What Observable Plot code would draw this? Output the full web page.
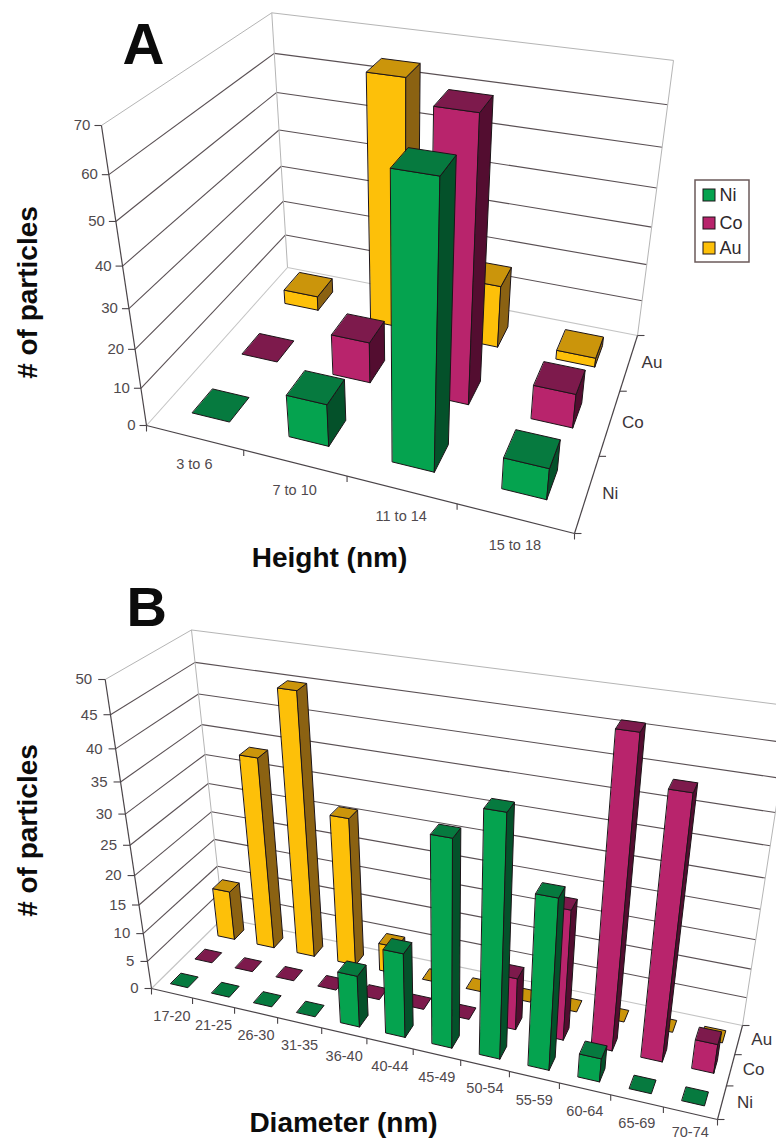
<!DOCTYPE html>
<html><head><meta charset="utf-8">
<script src="https://cdn.jsdelivr.net/npm/d3@7"></script>
<script src="https://cdn.jsdelivr.net/npm/@observablehq/plot@0.6"></script>
<style>html,body{margin:0;padding:0;background:#fff}svg{display:block}</style>
</head><body><div id="chart"></div>
<script>
const W = 776, H = 1141;
// Chart A values
const heightBins = ["3 to 6","7 to 10","11 to 14","15 to 18"];
const heightNi = [0, 11, 67, 8];
const heightCo = [0, 11, 69.5, 9];
const heightAu = [4, 65, 17, 2.5];
const heightTicks = [0,10,20,30,40,50,60,70];
// Chart B values
const diameterBins = ["17-20","21-25","26-30","31-35","36-40","40-44","45-49","50-54","55-59","60-64","65-69","70-74"];
const diameterNi = [0,0,0,0,9,14.5,34,39,28,4,0,0];
const diameterCo = [0,0,0,0,0,0,0,9,22,49,42,5];
const diameterAu = [9,33.5,45,26,5,0,0,0,0,0,0,0];
const diameterTicks = [0,5,10,15,20,25,30,35,40,45,50];
const seriesNames = ["Ni","Co","Au"];
const seriesFaces = {
  Ni:{front:"#05a34f",top:"#067a3f",side:"#04512a"},
  Co:{front:"#b8246c",top:"#7d1a4c",side:"#530d30"},
  Au:{front:"#fdc009",top:"#cb950b",side:"#8b6212"}
};
// Calibration of the two perspective views: floor corners, vertical vanishing point, top of the front-left edge
const viewA = {floor:[[146,425],[574,533],[637,335],[287,267]], vp:[402,2130], topY:125, bw:.39, bd:.39};
const viewB = {floor:[[151,988],[717,1119],[742,1025],[222.5,917.5]], vp:[445,2950], topY:679, bw:.42, bd:.42};

function homography(q){
  const [[x0,y0],[x1,y1],[x2,y2],[x3,y3]] = q;
  const dx1=x1-x2, dx2=x3-x2, sx=x0-x1+x2-x3, dy1=y1-y2, dy2=y3-y2, sy=y0-y1+y2-y3;
  const det=dx1*dy2-dx2*dy1, g=(sx*dy2-dx2*sy)/det, h=(dx1*sy-sx*dy1)/det;
  const a=x1-x0+g*x1,b=x3-x0+h*x3,c=x0,d=y1-y0+g*y1,e=y3-y0+h*y3,f=y0;
  return (u,v)=>[a*u+b*v+c,d*u+e*v+f,g*u+h*v+1];
}
function makeProjector(view,nu,maxV){
  const F=homography(view.floor),[vx,vy]=view.vp,y0=view.floor[0][1];
  const lambda=(view.topY-y0)/(vy-view.topY);
  return (u,v,val)=>{
    const [X,Y,Wt]=F(u/nu,v/3),s=lambda*val/maxV;
    return [(X+s*vx)/(Wt+s),(Y+s*vy)/(Wt+s)];
  };
}
function buildChart(view,cats,seriesVals,ticks,opts){
  const n=cats.length,maxV=ticks[ticks.length-1],P=makeProjector(view,n,maxV);
  const faces=[],grid=[],axes=[],labels=[];
  let id=0;
  const face=(pts,fill)=>{id++;pts.forEach(p=>faces.push({x:p[0],y:p[1],id:opts.key+id,fill}));};
  const seg=(arr,a,b,stroke,sw)=>arr.push({x1:a[0],y1:a[1],x2:b[0],y2:b[1],stroke,sw});
  for(const t of ticks){
    const c=t===maxV?"#b5b5b5":"#5a5054",sw=t===maxV?1:1.1;
    const col=t===0?"#c4c4c4":c;
    seg(grid,P(0,0,t),P(0,3,t),col,sw);seg(grid,P(0,3,t),P(n,3,t),col,sw);
  }
  seg(grid,P(0,3,0),P(0,3,maxV),"#b5b5b5",1);
  seg(grid,P(n,3,0),P(n,3,maxV),"#b5b5b5",1);
  seg(axes,P(0,0,0),P(0,0,maxV),"#4a4448",1.2);
  seg(axes,P(0,0,0),P(n,0,0),"#4a4448",1.2);
  seg(axes,P(n,0,0),P(n,3,0),"#4a4448",1.2);
  ticks.forEach(t=>{const p=P(0,0,t);seg(axes,[p[0]-7,p[1]],p,"#4a4448",1.1);
    labels.push({x:p[0]+opts.tickDx,y:p[1],text:String(t),anchor:"end"});});
  for(let i=0;i<=n;i++){const p=P(i,0,0);seg(axes,p,[p[0],p[1]+6],"#4a4448",1.1);}
  for(let j=0;j<=3;j++){const p=P(n,j,0);seg(axes,p,[p[0]+7,p[1]],"#4a4448",1.1);}
  cats.forEach((c,i)=>{const p=P(i+.5,0,0);labels.push({x:p[0],y:Math.min(p[1]+opts.catDy,H-9),text:c,anchor:"middle"});});
  seriesNames.forEach((s,j)=>{const p=P(n,j+.5,0);labels.push({x:p[0]+23,y:p[1],text:s,anchor:"middle",big:true});});
  for(let j=2;j>=0;j--){
    const s=seriesNames[j],col=seriesFaces[s],vals=seriesVals[j];
    vals.forEach((val,i)=>{
      const u0=i+.5-view.bw/2,u1=i+.5+view.bw/2,v0=j+.5-view.bd/2,v1=j+.5+view.bd/2;
      if(val>0){
        face([P(u0,v0,0),P(u1,v0,0),P(u1,v0,val),P(u0,v0,val)],col.front);
        face([P(u1,v0,0),P(u1,v1,0),P(u1,v1,val),P(u1,v0,val)],col.side);
      }
      face([P(u0,v0,val),P(u1,v0,val),P(u1,v1,val),P(u0,v1,val)],col.top);
    });
  }
  return {faces,grid,axes,labels};
}
const A=buildChart(viewA,heightBins,[heightNi,heightCo,heightAu],heightTicks,{key:"a",tickDx:-11,catDy:27});
const B=buildChart(viewB,diameterBins,[diameterNi,diameterCo,diameterAu],diameterTicks,{key:"b",tickDx:-13,catDy:23});

const sans="'Liberation Sans',Arial,sans-serif";
const legendRows=[{name:"Ni",y:195},{name:"Co",y:223},{name:"Au",y:248}];
const titles=[
 {x:122,y:63,text:"A",size:58,rotate:0,anchor:"start"},
 {x:126,y:625,text:"B",size:56,rotate:0,anchor:"start"},
 {x:36,y:292,text:"# of particles",size:28,rotate:-90,anchor:"middle"},
 {x:36,y:830,text:"# of particles",size:28,rotate:-90,anchor:"middle"},
 {x:329,y:566,text:"Height (nm)",size:28,rotate:0,anchor:"middle"},
 {x:343,y:1131,text:"Diameter (nm)",size:28,rotate:0,anchor:"middle"}
];
function chartMarks(C){
  const linkOpt={x1:"x1",y1:"y1",x2:"x2",y2:"y2",stroke:"stroke",strokeWidth:"sw"};
  return [
    Plot.link(C.grid,linkOpt),
    Plot.link(C.axes,linkOpt),
    Plot.line(C.faces,{x:"x",y:"y",z:"id",fill:"fill",stroke:"#1c1418",strokeWidth:1,curve:"linear-closed",strokeLinejoin:"round"}),
    Plot.text(C.labels.filter(d=>!d.big&&d.anchor==="end"),{x:"x",y:"y",text:"text",textAnchor:"end",fontSize:15,fontFamily:sans,fill:"#4f494d"}),
    Plot.text(C.labels.filter(d=>!d.big&&d.anchor==="middle"),{x:"x",y:"y",text:"text",textAnchor:"middle",fontSize:14.5,fontFamily:sans,fill:"#4f494d"}),
    Plot.text(C.labels.filter(d=>d.big),{x:"x",y:"y",text:"text",textAnchor:"middle",fontSize:17,fontFamily:sans,fill:"#3a3438"})
  ];
}
const plot=Plot.plot({
  width:W,height:H,margin:0,
  x:{domain:[0,W],range:[0,W],axis:null},
  y:{domain:[0,H],range:[0,H],axis:null},
  color:{type:"identity"},
  style:{background:"#fff"},
  marks:[
    ...chartMarks(A),...chartMarks(B),
    Plot.rect([{}],{x1:()=>695,x2:()=>749,y1:()=>180,y2:()=>262,fill:"#fff",stroke:"#6b5a5a",strokeWidth:1.5}),
    Plot.rect(legendRows,{x1:()=>703,x2:()=>715,y1:d=>d.y-6,y2:d=>d.y+6,fill:d=>seriesFaces[d.name].front,stroke:"#1c1418",strokeWidth:1}),
    Plot.text(legendRows,{x:()=>719,y:"y",text:"name",textAnchor:"start",fontSize:18,fontFamily:sans,fill:"#2e282c"}),
    Plot.text(titles.filter(d=>d.anchor==="start"),{x:"x",y:"y",text:"text",rotate:"rotate",fontSize:"size",fontWeight:"bold",fontFamily:sans,fill:"#0c0c0c",textAnchor:"start",lineAnchor:"bottom"}),
    Plot.text(titles.filter(d=>d.anchor==="middle"),{x:"x",y:"y",text:"text",rotate:"rotate",fontSize:"size",fontWeight:"bold",fontFamily:sans,fill:"#0c0c0c",textAnchor:"middle",lineAnchor:"bottom"})
  ]
});
document.getElementById("chart").append(plot);
</script></body></html>
